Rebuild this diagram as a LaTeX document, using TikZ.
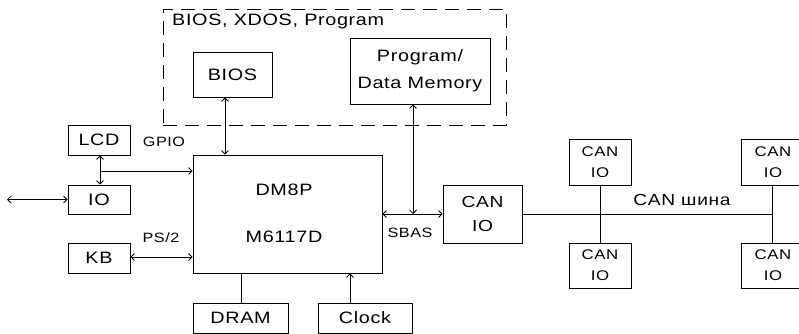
\documentclass[tikz,border=0pt]{standalone}
\usepackage{fontspec}
\usetikzlibrary{arrows.meta}
\newfontfamily\dgfont[FakeStretch=1.2,LetterSpace=4]{Liberation Sans}
\newcommand\bigtxt{\dgfont\fontsize{16.5}{27}\selectfont}
\newcommand\midtxt{\dgfont\fontsize{16}{24}\selectfont}
\newcommand\cantxt{\dgfont\fontsize{14}{21}\selectfont}
\newcommand\lbltxt{\dgfont\fontsize{13.5}{16}\selectfont}
\tikzset{
  box/.style={draw, line width=0.8pt, inner sep=0pt, align=center, font=\bigtxt},
  canbox/.style={box, font=\cantxt, minimum width=62pt, minimum height=45pt},
  grpbox/.style={draw, line width=0.8pt, dash pattern=on 14pt off 8pt, inner sep=0pt},
  wire/.style={line width=0.8pt},
  biarrow/.style={wire, {Straight Barb[length=3.5pt,width=7pt]}-{Straight Barb[length=3.5pt,width=7pt]}},
  onearrow/.style={wire, -{Straight Barb[length=3.5pt,width=7pt]}},
  lbl/.style={inner sep=0pt, font=\lbltxt},
}
\begin{document}
\begin{tikzpicture}[x=1pt,y=-1pt]
\useasboundingbox (0,0) rectangle (799,334);
% group
\node[grpbox, minimum width=343pt, minimum height=116pt] (grp) at (334.5,67) {};
\node[inner sep=0pt, anchor=west, font=\bigtxt] (grplbl) at (172,21) {BIOS, XDOS, Program};
% boxes
\node[box, minimum width=79pt, minimum height=45pt] (bios) at (232.5,74.5) {BIOS};
\node[box, minimum width=140pt, minimum height=66pt] (pdm) at (420,71) {Program/\\Data Memory};
\node[box, minimum width=189pt, minimum height=118pt] (cpu) at (287.5,214) {};
\node[inner sep=0pt, font=\bigtxt] (cpua) at (284,190) {DM8P};
\node[inner sep=0pt, font=\bigtxt] (cpub) at (284,237) {M6117D};
\node[box, font=\midtxt, minimum width=79pt, minimum height=58pt] (canio) at (482.5,214) {CAN\\IO};
\node[box, minimum width=95pt, minimum height=30pt] (dram) at (240.5,318) {DRAM};
\node[box, minimum width=94pt, minimum height=30pt] (clock) at (365,318) {Clock};
\node[box, minimum width=62pt, minimum height=30pt] (lcd) at (99,140) {LCD};
\node[box, minimum width=62pt, minimum height=29pt] (io) at (99,199.5) {IO};
\node[box, minimum width=62pt, minimum height=30pt] (kb) at (99,258) {KB};
\node[canbox, minimum height=46pt] (c1) at (600,162) {CAN\\IO};
\node[canbox] (c2) at (600,265.5) {CAN\\IO};
\node[canbox, minimum width=64pt, minimum height=46pt] (c3) at (773,162) {CAN\\IO};
\node[canbox, minimum width=64pt] (c4) at (773,265.5) {CAN\\IO};
% helper coordinates
\coordinate (bx) at (225,0);
\coordinate (mx) at (413,0);
\coordinate (dx) at (241,0);
\coordinate (kx) at (350,0);
\coordinate (lx) at (100,0);
\coordinate (gy) at (0,171);
\coordinate (ky) at (0,257);
\coordinate (ext) at (7,199.5);
\coordinate (sb) at (413,214);
\coordinate (b1) at (600,214);
\coordinate (b2) at (772,214);
% connectors
\draw[biarrow] (bios.south -| bx) -- (cpu.north -| bx);
\draw[biarrow] (pdm.south -| mx) -- (sb);
\draw[biarrow] (cpu.east) -- (canio.west);
\draw[wire] (canio.east) -- (b2);
\draw[wire] (c1.south) -- (c2.north);
\draw[wire] (c3.south -| b2) -- (c4.north -| b2);
\draw[wire] (cpu.south -| dx) -- (dram.north -| dx);
\draw[onearrow] (clock.north -| kx) -- (cpu.south -| kx);
\draw[biarrow] (lcd.south -| lx) -- (io.north -| lx);
\draw[onearrow] (lx |- gy) -- (cpu.west |- gy);
\draw[biarrow] (ext) -- (io.west);
\draw[biarrow] (kb.east |- ky) -- (cpu.west |- ky);
% labels
\node[lbl] (gpio) at (164,142) {GPIO};
\node[lbl] (ps2) at (161,238) {PS/2};
\node[lbl] (sbas) at (410,233) {SBAS};
\node[inner sep=0pt, font=\midtxt] (canbus) at (682,200) {CAN шина};
\end{tikzpicture}
\end{document}
